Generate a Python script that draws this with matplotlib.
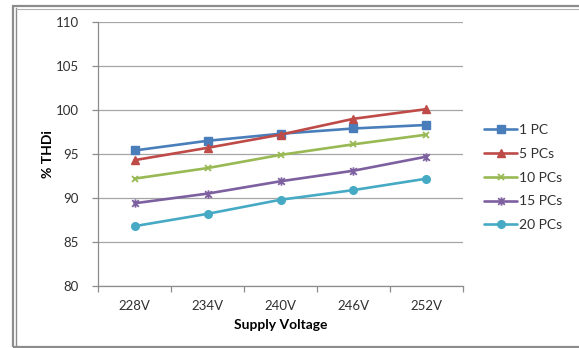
import matplotlib
matplotlib.use("Agg")
import matplotlib.pyplot as plt
from matplotlib.patches import Rectangle
from matplotlib.lines import Line2D
from matplotlib.path import Path

plt.rcParams['font.family'] = ['Lato', 'DejaVu Sans']

voltages = ["228V", "234V", "240V", "246V", "252V"]
series_names = ["1 PC", "5 PCs", "10 PCs", "15 PCs", "20 PCs"]
thd_1pc = [95.4, 96.5, 97.3, 97.9, 98.3]
thd_5pcs = [94.3, 95.7, 97.2, 99.0, 100.1]
thd_10pcs = [92.2, 93.4, 94.9, 96.1, 97.2]
thd_15pcs = [89.4, 90.5, 91.9, 93.1, 94.7]
thd_20pcs = [86.8, 88.2, 89.8, 90.9, 92.2]
y_ticks = [80, 85, 90, 95, 100, 105, 110]

# star marker: an "x" crossed by a vertical stroke
star = Path([(-1, -1), (1, 1), (-1, 1), (1, -1), (0, -1.25), (0, 1.25)],
            [Path.MOVETO, Path.LINETO, Path.MOVETO, Path.LINETO, Path.MOVETO, Path.LINETO])

colors = ["#4A7EBB", "#BE4B48", "#98B954", "#7D60A0", "#46AAC5"]
markers = ["s", "^", "x", star, "o"]
msizes = [5.5, 6, 5, 6, 5.5]
all_series = [thd_1pc, thd_5pcs, thd_10pcs, thd_15pcs, thd_20pcs]

W, H = 579, 348
fig = plt.figure(figsize=(W / 100, H / 100), dpi=100)

# outer chart frame (double line on the left/top)
fig.add_artist(Rectangle((12.5 / W, 1 - 346.5 / H), 700 / W, 340.5 / H,
                         transform=fig.transFigure, fill=False,
                         edgecolor="#8c8c8c", linewidth=1.6))
fig.add_artist(Line2D([15.5 / W, 15.5 / W], [1 - 346 / H, 1 - 8 / H],
                      transform=fig.transFigure, color="#8c8c8c", linewidth=1.0))
fig.add_artist(Line2D([15.5 / W, 1.0], [1 - 8.5 / H, 1 - 8.5 / H],
                      transform=fig.transFigure, color="#b0b0b0", linewidth=0.8))

left, right, top, bottom = 98, 463, 22, 286
ax = fig.add_axes([left / W, 1 - bottom / H, (right - left) / W, (bottom - top) / H])

x = list(range(len(voltages)))
handles = []
for vals, name, c, m, ms in zip(all_series, series_names, colors, markers, msizes):
    stroke = not isinstance(m, str) or m == "x"
    mew = 1.3 if stroke else 1.0
    h, = ax.plot(x, vals, color=c, linewidth=1.9, marker=m, markersize=ms,
                 markeredgewidth=mew, markeredgecolor=c, markerfacecolor=c,
                 label=name, solid_capstyle="round")
    handles.append(h)

ax.set_xlim(-0.5, len(voltages) - 0.5)
ax.set_ylim(80, 110)
ax.set_yticks(y_ticks)
ax.set_yticklabels([str(v) for v in y_ticks])
ax.set_xticks(x)
ax.set_xticklabels(voltages)
ax.set_xticks([i - 0.5 for i in range(len(voltages) + 1)], minor=True)

ax.grid(axis="y", color="#a6a6a6", linewidth=0.9)
ax.set_axisbelow(True)
for s in ["top", "right"]:
    ax.spines[s].set_visible(False)
for s in ["left", "bottom"]:
    ax.spines[s].set_color("#8c8c8c")
    ax.spines[s].set_linewidth(0.9)

ax.tick_params(axis="x", which="major", length=0, pad=10, labelsize=9.5, colors="#303030")
ax.tick_params(axis="x", which="minor", length=4, width=0.9, color="#8c8c8c", direction="out")
ax.tick_params(axis="y", length=4, width=0.9, color="#8c8c8c", pad=10, labelsize=9.5,
               labelcolor="#303030")

ax.set_xlabel("Supply Voltage", fontsize=10, fontweight="bold", labelpad=5)
ax.set_ylabel("% THDi", fontsize=10, fontweight="bold", labelpad=1)

leg = fig.legend(handles=handles, loc="upper left",
                 bbox_to_anchor=(484 / W, 1 - 124 / H),
                 frameon=False, fontsize=10, handlelength=2.4,
                 handletextpad=0.15, labelspacing=0.85, borderaxespad=0,
                 borderpad=0)
for t in leg.get_texts():
    t.set_color("#303030")

fig.savefig("out.png", dpi=100)
